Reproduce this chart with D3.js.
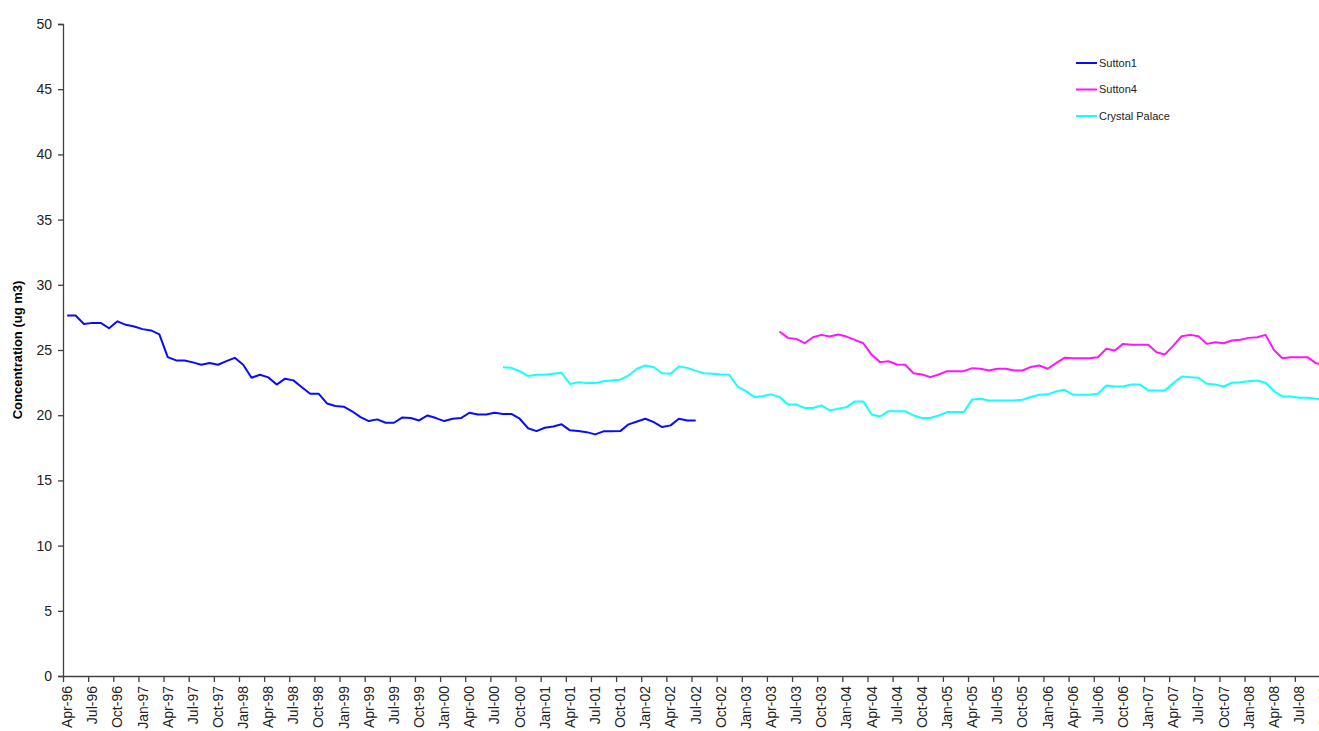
<!DOCTYPE html>
<html>
<head>
<meta charset="utf-8">
<script src="https://cdn.jsdelivr.net/npm/d3@7"></script>
<style>
  html, body { margin: 0; padding: 0; background: #fff; overflow: hidden; }
  svg { display: block; font-family: "Liberation Sans", Arial, sans-serif; }
</style>
</head>
<body>
<svg id="chart" width="1319" height="731"></svg>
<script>
// Monthly categories, Apr-96 onwards
const monthFmt = d3.timeFormat("%b-%y");
const categories = d3.timeMonth.range(new Date(1996, 3, 1), new Date(2009, 0, 1)).map(monthFmt);

// Y axis ticks
const yTicks = [0, 5, 10, 15, 20, 25, 30, 35, 40, 45, 50];

// Monthly concentrations (ug m3) per site, each starting at the given month
const sutton1Start = "Apr-96";
const sutton1 = [
  27.64, 27.64, 27.0, 27.08, 27.08, 26.67, 27.2, 26.93, 26.8, 26.6, 26.5, 26.2,
  24.45, 24.2, 24.2, 24.05, 23.87, 24.0, 23.87, 24.15, 24.4, 23.87, 22.87, 23.1,
  22.9, 22.35, 22.8, 22.67, 22.15, 21.65, 21.65, 20.9, 20.7, 20.65, 20.3, 19.85,
  19.55, 19.68, 19.42, 19.42, 19.83, 19.78, 19.6, 19.98, 19.78, 19.55, 19.73, 19.78,
  20.19, 20.06, 20.06, 20.19, 20.1, 20.1, 19.73, 19.0, 18.78, 19.04, 19.14, 19.3,
  18.84, 18.78, 18.7, 18.53, 18.76, 18.76, 18.78, 19.3, 19.52, 19.73, 19.47, 19.09,
  19.22, 19.73, 19.6, 19.6
];

const sutton4Start = "May-03";
const sutton4 = [
  26.42, 25.93, 25.85, 25.52, 25.98, 26.16, 26.03, 26.19, 26.03, 25.78, 25.52,
  24.63, 24.07, 24.14, 23.89, 23.87, 23.22, 23.12, 22.92, 23.12, 23.38, 23.38, 23.38,
  23.61, 23.56, 23.43, 23.56, 23.56, 23.43, 23.43, 23.7, 23.81, 23.56, 23.99, 24.4,
  24.37, 24.37, 24.37, 24.45, 25.09, 24.96, 25.47, 25.4, 25.4, 25.4, 24.83, 24.66,
  25.34, 26.06, 26.16, 26.06, 25.47, 25.6, 25.52, 25.73, 25.78, 25.93, 25.98, 26.16,
  25.01, 24.37, 24.45, 24.45, 24.45, 23.99, 23.9
];

const crystalPalaceStart = "Aug-00";
const crystalPalace = [
  23.68, 23.63, 23.38, 23.0, 23.1, 23.1, 23.18, 23.25,
  22.4, 22.53, 22.46, 22.46, 22.61, 22.66, 22.72, 23.05, 23.56, 23.81, 23.68, 23.22,
  23.18, 23.74, 23.63, 23.4, 23.22, 23.18, 23.12, 23.1, 22.2, 21.85, 21.39, 21.46,
  21.6, 21.39, 20.83, 20.83, 20.55, 20.55, 20.75, 20.37, 20.5, 20.62, 21.06, 21.06,
  20.06, 19.9, 20.31, 20.31, 20.31, 19.98, 19.78, 19.78, 19.98, 20.24, 20.24, 20.24,
  21.21, 21.26, 21.13, 21.13, 21.13, 21.13, 21.19, 21.39, 21.57, 21.6, 21.82, 21.95,
  21.57, 21.57, 21.57, 21.65, 22.28, 22.2, 22.2, 22.36, 22.36, 21.9, 21.9, 21.9,
  22.46, 22.97, 22.92, 22.87, 22.41, 22.36, 22.2, 22.49, 22.53, 22.61, 22.66, 22.49,
  21.85, 21.44, 21.44, 21.34, 21.34, 21.26, 21.2
];

const seriesList = [
  { name: "Sutton1", color: "#0a0aff", start: sutton1Start, values: sutton1 },
  { name: "Sutton4", color: "#ff14ff", start: sutton4Start, values: sutton4 },
  { name: "Crystal Palace", color: "#14ffff", start: crystalPalaceStart, values: crystalPalace }
];

const svg = d3.select("#chart");
const plotLeft = 63, plotTop = 24, plotBottom = 676, monthWidth = 8.38;
const N = categories.length;

const x = d3.scaleLinear().domain([0, N]).range([plotLeft, plotLeft + N * monthWidth]);
const y = d3.scaleLinear().domain([0, 50]).range([plotBottom, plotTop]);

const axisColor = "#404040";
const textColor = "#222";

// Y axis
const yAxis = svg.append("g")
  .attr("transform", `translate(${plotLeft},0)`)
  .call(d3.axisLeft(y).tickValues(yTicks).tickSize(5).tickPadding(6));
yAxis.select(".domain").attr("stroke", axisColor).attr("stroke-width", 1.3);
yAxis.selectAll(".tick line").attr("stroke", axisColor).attr("stroke-width", 1.3);
yAxis.selectAll(".tick text").attr("fill", textColor).style("font-size", "14px");

// X axis: tick marks at category boundaries every 3 months
const xAxis = svg.append("g")
  .attr("transform", `translate(0,${plotBottom})`)
  .call(d3.axisBottom(x).tickValues(d3.range(0, N + 1, 3)).tickSize(6).tickFormat("").tickSizeOuter(0));
xAxis.select(".domain").attr("stroke", axisColor).attr("stroke-width", 1.3);
xAxis.selectAll(".tick line").attr("stroke", axisColor).attr("stroke-width", 1.3);

// X labels centred on their category, rotated
svg.append("g").selectAll("text")
  .data(categories.map((c, i) => ({ c, i })).filter(d => d.i % 3 === 0))
  .join("text")
  .attr("transform", d => `translate(${x(d.i + 0.5)},${plotBottom + 10}) rotate(-90)`)
  .attr("text-anchor", "end")
  .attr("dy", "0.35em")
  .attr("fill", textColor)
  .style("font-size", "14px")
  .text(d => d.c);

// Y axis title
svg.append("text")
  .attr("transform", `translate(22,${(plotTop + plotBottom) / 2}) rotate(-90)`)
  .attr("text-anchor", "middle")
  .attr("fill", "#000")
  .style("font-size", "13px")
  .style("font-weight", "bold")
  .text("Concentration (ug m3)");

// Lines
const line = d3.line()
  .x(d => x(d.i + 0.5))
  .y(d => y(d.v));

seriesList.forEach(s => {
  const offset = categories.indexOf(s.start);
  const pts = s.values.map((v, k) => ({ i: offset + k, v }));
  svg.append("path")
    .datum(pts)
    .attr("fill", "none")
    .attr("stroke", s.color)
    .attr("stroke-width", 2)
    .attr("stroke-linejoin", "round")
    .attr("d", line);
});

// Legend
const legend = svg.append("g").attr("transform", "translate(1076,63)");
seriesList.forEach((s, k) => {
  const g = legend.append("g").attr("transform", `translate(0,${k * 26.5})`);
  g.append("line").attr("x1", 0).attr("x2", 21).attr("y1", 0).attr("y2", 0)
    .attr("stroke", s.color).attr("stroke-width", 2);
  g.append("text").attr("x", 23).attr("dy", "0.35em")
    .attr("fill", textColor).style("font-size", "11px").text(s.name);
});
</script>
</body>
</html>
